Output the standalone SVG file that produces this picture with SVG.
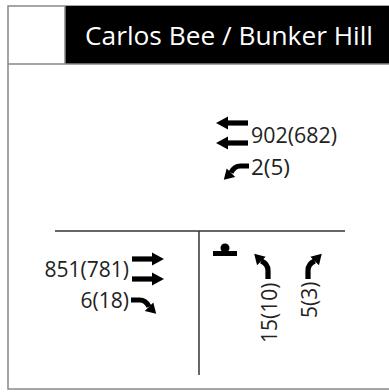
<svg xmlns="http://www.w3.org/2000/svg" width="389" height="392" viewBox="0 0 389 392">
<style>
.lbl{font-family:"Open Sans","Noto Sans","Liberation Sans",sans-serif;font-size:21px;fill:#222}
.title{font-family:"Open Sans","Noto Sans","Liberation Sans",sans-serif;font-size:26px;fill:#fff}
.frame{fill:none;stroke:#888;stroke-width:1.5}
.road{stroke:#333;stroke-width:1.5;fill:none}
.shaft{fill:none;stroke:#000;stroke-width:5.5}
</style>
<defs>
<g id="straight">
<rect x="0" y="-2.6" width="22" height="5.2" fill="#000"/>
<polygon points="20,-6.5 32,0 20,6.5" fill="#000"/>
</g>
<g id="turnR">
<path class="shaft" d="M0,0 V-9 C0,-14 3,-17 7,-19"/>
<polygon points="14.5,-26.5 11.5,-14.5 2.5,-23.5" fill="#000"/>
</g>
</defs>
<g id="frame">
<rect class="frame" x="8" y="6" width="390" height="383"/>
<rect x="65" y="6" width="330" height="58" fill="#000"/>
<line class="frame" x1="8" y1="64" x2="389" y2="64"/>
<line class="frame" x1="65" y1="6" x2="65" y2="64"/>
</g>
<g id="title">
<text class="title" x="85" y="45" textLength="288" lengthAdjust="spacingAndGlyphs">Carlos Bee / Bunker Hill</text>
</g>
<g id="connectors">
<line class="road" x1="55" y1="231" x2="345" y2="231"/>
<line class="road" x1="199" y1="231" x2="199" y2="375"/>
</g>
<g id="westbound">
<use href="#straight" transform="translate(248,123) rotate(180)"/>
<use href="#straight" transform="translate(248,143) rotate(180)"/>
<use href="#turnR" transform="translate(249,166) rotate(-90) scale(-0.95,0.95)"/>
<text class="lbl" x="251" y="143" textLength="86" lengthAdjust="spacingAndGlyphs">902(682)</text>
<text class="lbl" x="251" y="175" textLength="39" lengthAdjust="spacingAndGlyphs">2(5)</text>
</g>
<g id="eastbound">
<use href="#straight" transform="translate(132,259)"/>
<use href="#straight" transform="translate(132,279)"/>
<use href="#turnR" transform="translate(131,300) rotate(90) scale(0.95)"/>
<text class="lbl" x="129" y="277" text-anchor="end">851(781)</text>
<text class="lbl" x="129" y="308" text-anchor="end">6(18)</text>
</g>
<g id="northbound">
<rect x="213" y="251" width="24" height="5" fill="#000"/>
<circle cx="225" cy="248" r="4.5" fill="#000"/>
<use href="#turnR" transform="translate(268,279) scale(-0.95,0.95)"/>
<use href="#turnR" transform="translate(308,279) scale(0.95)"/>
<text class="lbl" transform="translate(277,343) rotate(-90)">15(10)</text>
<text class="lbl" transform="translate(317,318) rotate(-90)">5(3)</text>
</g>
</svg>
